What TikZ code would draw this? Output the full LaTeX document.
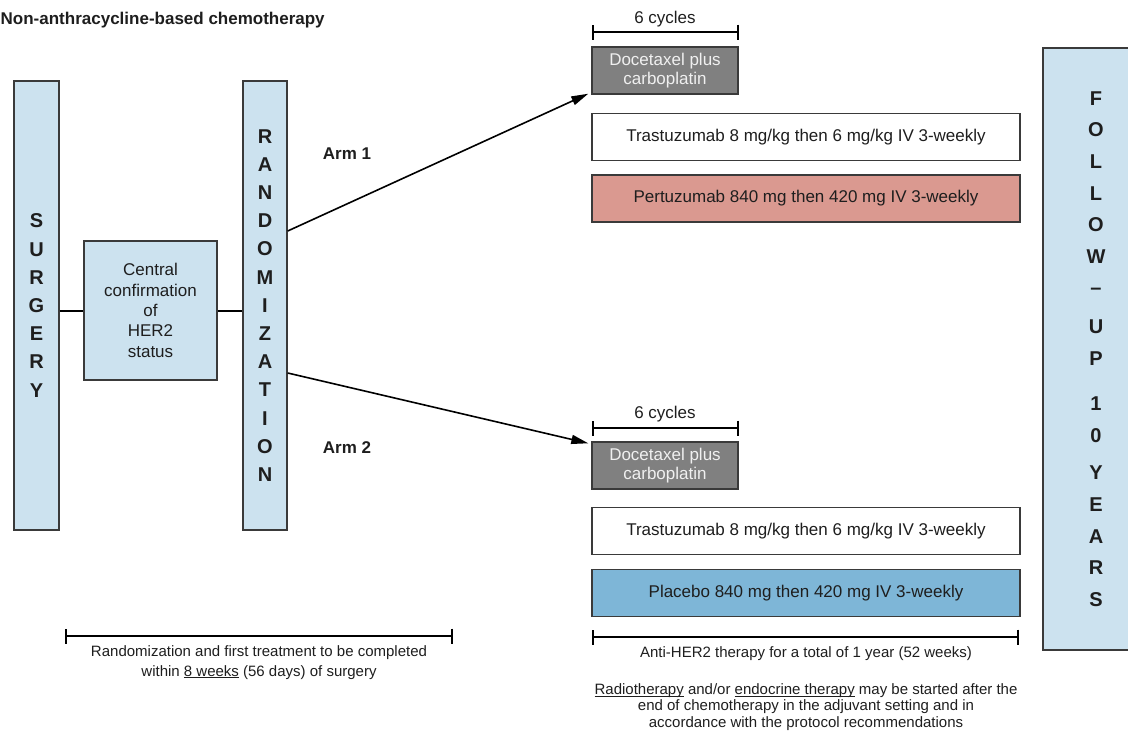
\documentclass[tikz,border=0pt]{standalone}
\usepackage{fontspec}
\setmainfont{Liberation Sans}
\usetikzlibrary{arrows.meta}

\definecolor{boxblue}{HTML}{CCE2EF}
\definecolor{boxline}{HTML}{3A3A3A}
\definecolor{chemogray}{HTML}{808080}
\definecolor{pertpink}{HTML}{DA9990}
\definecolor{placeblue}{HTML}{7EB6D7}
\definecolor{inktext}{HTML}{1E1E1E}

\newcommand{\ulword}[1]{\underline{\smash{#1}}}

\tikzset{
  box/.style={draw=boxline, line width=1.4pt, inner sep=0pt, align=center,
    text=inktext, font=\fontsize{17}{20.4}\selectfont},
  tallbox/.style={box, fill=boxblue, minimum width=45pt, minimum height=449pt,
    font=\bfseries\fontsize{20}{28.2}\selectfont},
  drugbox/.style={box, minimum width=428pt, minimum height=47pt},
  chemobox/.style={box, fill=chemogray, text=white!94!black,
    minimum width=146pt, minimum height=47pt, font=\fontsize{17}{19.5}\selectfont},
  bracket/.style={line width=2.4pt, {Bar[width=15pt]}-{Bar[width=15pt]}},
  note/.style={text=inktext, align=center, inner sep=0pt},
}

\begin{document}
\begin{tikzpicture}[x=1pt, y=-1pt]
  \useasboundingbox (0,0) rectangle (1128,731);
  \clip (0,0) rectangle (1128,731);

  \node[note, anchor=west, font=\bfseries\fontsize{17}{20}\selectfont]
    (title) at (0.5,20) {Non-anthracycline-based chemotherapy};

  % left part
  \node[tallbox] (surgery) at (36.5,305.5) {S\\U\\R\\G\\E\\R\\Y};
  \node[box, fill=boxblue, minimum width=133pt, minimum height=139pt]
    (central) at (150.5,310.5) {Central\\confirmation\\of\\HER2\\status};
  \node[tallbox, minimum width=44pt] (rand) at (265,305.5)
    {R\\A\\N\\D\\O\\M\\I\\Z\\A\\T\\I\\O\\N};
  \draw[line width=2pt] (surgery.east |- central.west) -- (central.west);
  \draw[line width=2pt] (central.east) -- (rand.west |- central.east);

  \node[note, font=\bfseries\fontsize{17}{20}\selectfont] (arm1) at (347,154) {Arm 1};
  \node[note, font=\bfseries\fontsize{17}{20}\selectfont] (arm2) at (347,448) {Arm 2};

  % arm 1
  \node[chemobox] (doc1) at (665,70.5) {Docetaxel plus\\[-1pt]carboplatin};
  \node[drugbox, fill=white] (tras1) at (806,137) {Trastuzumab 8 mg/kg then 6 mg/kg IV 3-weekly};
  \node[drugbox, fill=pertpink] (pert) at (806,198.5) {Pertuzumab 840 mg then 420 mg IV 3-weekly};
  \coordinate (cyc1a) at (592,32);
  \coordinate (cyc1b) at (739,32);
  \draw[bracket] (cyc1a) -- (cyc1b);
  \node[note, font=\fontsize{17}{20}\selectfont] (cyc1) at (665,19) {6 cycles};

  % arm 2
  \node[chemobox] (doc2) at (665,465.5) {Docetaxel plus\\[-1pt]carboplatin};
  \node[drugbox, fill=white] (tras2) at (806,531) {Trastuzumab 8 mg/kg then 6 mg/kg IV 3-weekly};
  \node[drugbox, fill=placeblue] (plac) at (806,593) {Placebo 840 mg then 420 mg IV 3-weekly};
  \coordinate (cyc2a) at (592,428);
  \coordinate (cyc2b) at (739,428);
  \draw[bracket] (cyc2a) -- (cyc2b);
  \node[note, font=\fontsize{17}{20}\selectfont] (cyc2) at (665,414) {6 cycles};

  \draw[line width=1.6pt, -{Triangle[length=17pt, width=9pt]}]
    ([yshift=74.5pt]rand.east) -- ([xshift=-3pt, yshift=1pt]doc1.south west);
  \draw[line width=1.6pt, -{Triangle[length=17pt, width=9pt]}]
    ([yshift=-67.5pt]rand.east) -- ([xshift=-3pt, yshift=-2pt]doc2.north west);

  % follow-up
  \node[tallbox, minimum width=106pt, minimum height=602pt, font=\bfseries\fontsize{20}{31.6}\selectfont]
    (follow) at (1096,349)
    {F\\O\\L\\L\\O\\W\\--\\[7pt]U\\P\\[14pt]1\\0\\[6pt]Y\\E\\A\\R\\S};

  % time lines
  \coordinate (wka) at (65,636);
  \coordinate (wkb) at (453,636);
  \draw[bracket] (wka) -- (wkb);
  \node[note, font=\fontsize{15}{19.5}\selectfont] (wktext) at (259,662.5)
    {Randomization and first treatment to be completed\\within \ulword{8 weeks} (56 days) of surgery};
  \coordinate (yra) at (592,637);
  \coordinate (yrb) at (1019,637);
  \draw[bracket] (yra) -- (yrb);
  \node[note, font=\fontsize{15}{19}\selectfont] (yrtext) at (806,654)
    {Anti-HER2 therapy for a total of 1 year (52 weeks)};
  \node[note, font=\fontsize{15}{16.5}\selectfont] (radio) at (806,707)
    {\ulword{Radiotherapy} and/or \ulword{endocrine therapy} may be started after the\\
     end of chemotherapy in the adjuvant setting and in\\accordance with the protocol recommendations};
\end{tikzpicture}
\end{document}
